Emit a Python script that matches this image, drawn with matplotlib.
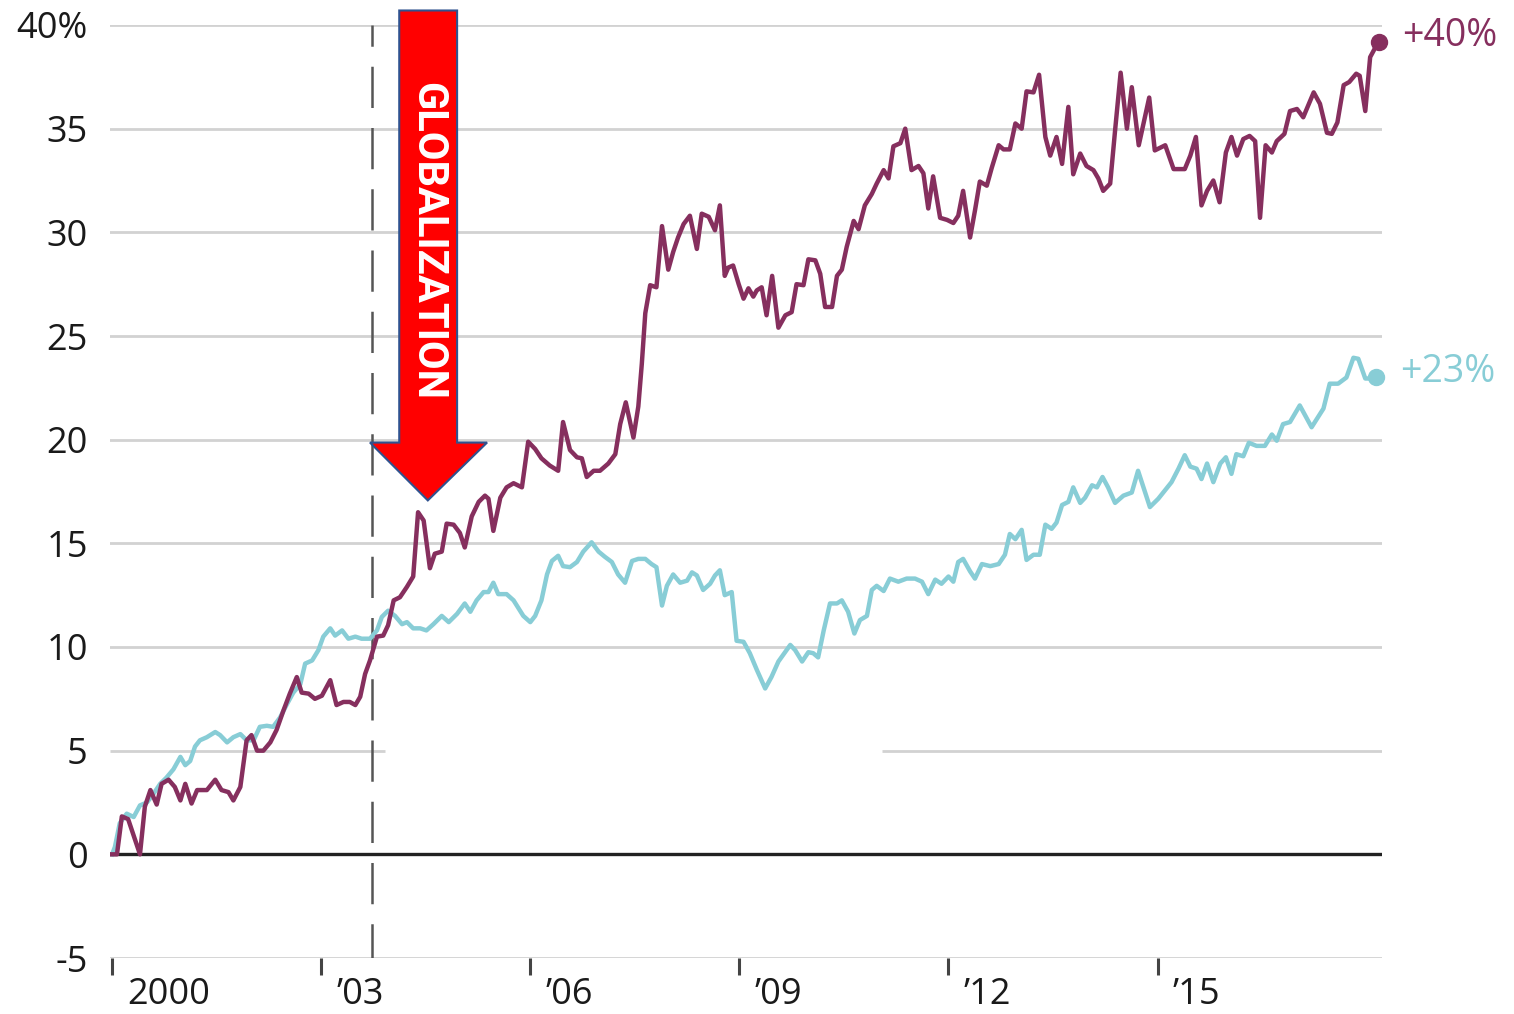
import matplotlib.pyplot as plt
from matplotlib.patches import Polygon
from matplotlib.transforms import ScaledTranslation

plt.rcParams['font.family'] = ['Open Sans', 'DejaVu Sans']

#%% Data (decimal year, % change since 2000)

purple_years = [
    2000.00, 2000.07, 2000.14, 2000.23, 2000.40, 2000.47, 2000.55, 2000.64, 2000.71, 2000.81,
    2000.90, 2000.98, 2001.05, 2001.14, 2001.22, 2001.36, 2001.48, 2001.57, 2001.67, 2001.74,
    2001.84, 2001.93, 2002.00, 2002.08, 2002.17, 2002.27, 2002.36, 2002.46, 2002.55, 2002.65,
    2002.72, 2002.82, 2002.91, 2003.01, 2003.13, 2003.22, 2003.32, 2003.41, 2003.49, 2003.56,
    2003.63, 2003.70, 2003.80, 2003.89, 2003.96, 2004.04, 2004.13, 2004.23, 2004.32, 2004.39,
    2004.47, 2004.56, 2004.63, 2004.73, 2004.80, 2004.90, 2004.99, 2005.06, 2005.16, 2005.26,
    2005.35, 2005.40, 2005.47, 2005.57, 2005.66, 2005.76, 2005.88, 2005.97, 2006.07, 2006.16,
    2006.28, 2006.40, 2006.47, 2006.57, 2006.67, 2006.74, 2006.81, 2006.91, 2007.00, 2007.12,
    2007.22, 2007.29, 2007.37, 2007.48, 2007.55, 2007.60, 2007.65, 2007.72, 2007.81, 2007.89,
    2007.98, 2008.05, 2008.12, 2008.20, 2008.29, 2008.39, 2008.46, 2008.56, 2008.65, 2008.72,
    2008.79, 2008.84, 2008.91, 2008.99, 2009.06, 2009.13, 2009.20, 2009.25, 2009.32, 2009.39,
    2009.47, 2009.56, 2009.66, 2009.75, 2009.82, 2009.92, 2009.99, 2010.09, 2010.16, 2010.23,
    2010.33, 2010.40, 2010.47, 2010.54, 2010.64, 2010.71, 2010.80, 2010.90, 2010.97, 2011.07,
    2011.14, 2011.21, 2011.31, 2011.38, 2011.47, 2011.57, 2011.64, 2011.71, 2011.78, 2011.88,
    2011.98, 2012.07, 2012.14, 2012.21, 2012.31, 2012.38, 2012.45, 2012.55, 2012.62, 2012.72,
    2012.79, 2012.88, 2012.96, 2013.05, 2013.12, 2013.22, 2013.30, 2013.39, 2013.46, 2013.55,
    2013.63, 2013.72, 2013.79, 2013.89, 2013.98, 2014.08, 2014.15, 2014.22, 2014.32, 2014.39,
    2014.47, 2014.56, 2014.63, 2014.73, 2014.88, 2014.96, 2015.11, 2015.23, 2015.39, 2015.47,
    2015.55, 2015.63, 2015.71, 2015.80, 2015.89, 2015.98, 2016.06, 2016.14, 2016.23, 2016.32,
    2016.40, 2016.47, 2016.55, 2016.64, 2016.71, 2016.82, 2016.90, 2017.00, 2017.09, 2017.24,
    2017.33, 2017.43, 2017.50, 2017.58, 2017.67, 2017.75, 2017.85, 2017.90, 2017.98, 2018.05,
    2018.17]
purple_pct = [
    0.0, 0.0, 1.83, 1.7, 0.0, 2.3, 3.1, 2.4, 3.4, 3.6,
    3.25, 2.6, 3.4, 2.45, 3.1, 3.1, 3.6, 3.1, 3.0, 2.6,
    3.25, 5.5, 5.75, 5.0, 5.0, 5.4, 6.0, 6.95, 7.75, 8.55,
    7.8, 7.75, 7.5, 7.65, 8.4, 7.2, 7.35, 7.35, 7.2, 7.6,
    8.7, 9.35, 10.5, 10.55, 11.05, 12.25, 12.4, 12.9, 13.4, 16.5,
    16.1, 13.8, 14.5, 14.6, 15.95, 15.9, 15.5, 14.8, 16.3, 17.0,
    17.3, 17.15, 15.6, 17.2, 17.7, 17.9, 17.7, 19.9, 19.55, 19.1,
    18.75, 18.5, 20.85, 19.5, 19.15, 19.1, 18.2, 18.5, 18.5, 18.85,
    19.3, 20.75, 21.8, 20.1, 21.6, 23.65, 26.1, 27.45, 27.35, 30.3,
    28.2, 29.05, 29.75, 30.4, 30.8, 29.2, 30.9, 30.75, 30.1, 31.3,
    27.9, 28.3, 28.4, 27.5, 26.8, 27.3, 26.9, 27.2, 27.35, 26.0,
    27.9, 25.4, 26.0, 26.15, 27.5, 27.45, 28.7, 28.65, 28.0, 26.4,
    26.4, 27.9, 28.2, 29.3, 30.55, 30.15, 31.3, 31.85, 32.35, 33.0,
    32.6, 34.15, 34.3, 35.0, 33.0, 33.2, 32.85, 31.15, 32.7, 30.7,
    30.6, 30.45, 30.8, 32.0, 29.75, 31.05, 32.45, 32.25, 33.1, 34.2,
    34.0, 34.0, 35.25, 35.0, 36.8, 36.75, 37.6, 34.6, 33.7, 34.6,
    33.3, 36.05, 32.8, 33.8, 33.2, 33.0, 32.6, 32.0, 32.35, 34.9,
    37.7, 35.0, 37.0, 34.2, 36.5, 33.95, 34.2, 33.05, 33.05, 33.7,
    34.6, 31.3, 32.0, 32.5, 31.45, 33.85, 34.6, 33.7, 34.5, 34.65,
    34.4, 30.7, 34.2, 33.85, 34.4, 34.75, 35.85, 35.95, 35.55, 36.75,
    36.2, 34.8, 34.75, 35.3, 37.1, 37.25, 37.65, 37.55, 35.85, 38.45,
    39.2]

teal_years = [
    2000.00, 2000.04, 2000.11, 2000.21, 2000.31, 2000.40, 2000.50, 2000.59, 2000.69, 2000.78,
    2000.88, 2000.98, 2001.05, 2001.12, 2001.19, 2001.26, 2001.36, 2001.48, 2001.55, 2001.65,
    2001.74, 2001.84, 2001.93, 2002.03, 2002.12, 2002.22, 2002.31, 2002.41, 2002.51, 2002.60,
    2002.70, 2002.77, 2002.87, 2002.96, 2003.03, 2003.13, 2003.20, 2003.30, 2003.39, 2003.49,
    2003.58, 2003.70, 2003.80, 2003.87, 2003.96, 2004.06, 2004.16, 2004.23, 2004.32, 2004.42,
    2004.51, 2004.61, 2004.73, 2004.83, 2004.95, 2005.06, 2005.14, 2005.23, 2005.33, 2005.40,
    2005.47, 2005.54, 2005.66, 2005.76, 2005.90, 2006.00, 2006.07, 2006.16, 2006.24, 2006.31,
    2006.40, 2006.47, 2006.57, 2006.67, 2006.76, 2006.88, 2006.98, 2007.07, 2007.17, 2007.26,
    2007.36, 2007.46, 2007.55, 2007.65, 2007.74, 2007.81, 2007.89, 2007.96, 2008.05, 2008.15,
    2008.25, 2008.32, 2008.39, 2008.48, 2008.58, 2008.65, 2008.72, 2008.79, 2008.89, 2008.96,
    2009.06, 2009.15, 2009.25, 2009.37, 2009.46, 2009.56, 2009.73, 2009.80, 2009.90, 2009.99,
    2010.06, 2010.13, 2010.21, 2010.30, 2010.40, 2010.47, 2010.56, 2010.65, 2010.73, 2010.83,
    2010.90, 2010.97, 2011.07, 2011.16, 2011.28, 2011.40, 2011.52, 2011.62, 2011.71, 2011.81,
    2011.90, 2012.00, 2012.07, 2012.14, 2012.21, 2012.31, 2012.38, 2012.48, 2012.60, 2012.72,
    2012.81, 2012.88, 2012.96, 2013.05, 2013.12, 2013.22, 2013.31, 2013.39, 2013.48, 2013.55,
    2013.63, 2013.72, 2013.79, 2013.89, 2013.96, 2014.06, 2014.13, 2014.21, 2014.29, 2014.39,
    2014.51, 2014.63, 2014.72, 2014.89, 2015.01, 2015.20, 2015.30, 2015.39, 2015.47, 2015.56,
    2015.63, 2015.71, 2015.80, 2015.90, 2015.98, 2016.06, 2016.13, 2016.23, 2016.31, 2016.42,
    2016.54, 2016.64, 2016.71, 2016.80, 2016.90, 2017.04, 2017.21, 2017.38, 2017.47, 2017.59,
    2017.71, 2017.81, 2017.88, 2017.98, 2018.04, 2018.14]
teal_pct = [
    0.0, 0.35, 1.5, 1.96, 1.8, 2.36, 2.5, 2.9, 3.4, 3.7,
    4.1, 4.7, 4.3, 4.5, 5.2, 5.5, 5.65, 5.9, 5.75, 5.4,
    5.65, 5.8, 5.5, 5.5, 6.15, 6.2, 6.15, 6.6, 7.25, 7.8,
    8.2, 9.2, 9.35, 9.85, 10.5, 10.9, 10.55, 10.8, 10.4, 10.5,
    10.4, 10.4, 10.8, 11.45, 11.75, 11.5, 11.1, 11.2, 10.9, 10.9,
    10.8, 11.1, 11.5, 11.2, 11.6, 12.1, 11.7, 12.25, 12.65, 12.65,
    13.1, 12.55, 12.55, 12.25, 11.5, 11.2, 11.5, 12.25, 13.5, 14.15,
    14.4, 13.9, 13.85, 14.1, 14.6, 15.05, 14.6, 14.35, 14.1, 13.5,
    13.1, 14.15, 14.25, 14.25, 14.0, 13.85, 12.0, 12.95, 13.5, 13.1,
    13.2, 13.6, 13.45, 12.75, 13.05, 13.45, 13.7, 12.5, 12.65, 10.3,
    10.25, 9.7, 8.9, 8.0, 8.55, 9.3, 10.1, 9.85, 9.3, 9.75,
    9.7, 9.5, 10.8, 12.1, 12.1, 12.25, 11.7, 10.65, 11.3, 11.5,
    12.75, 12.95, 12.7, 13.3, 13.15, 13.3, 13.3, 13.15, 12.55, 13.25,
    13.05, 13.4, 13.15, 14.1, 14.25, 13.65, 13.3, 14.0, 13.9, 14.0,
    14.45, 15.45, 15.2, 15.65, 14.2, 14.45, 14.45, 15.9, 15.7, 16.0,
    16.85, 17.0, 17.7, 16.95, 17.2, 17.8, 17.7, 18.2, 17.7, 16.95,
    17.3, 17.45, 18.5, 16.75, 17.15, 17.95, 18.6, 19.25, 18.7, 18.6,
    18.1, 18.85, 17.95, 18.85, 19.15, 18.35, 19.3, 19.2, 19.85, 19.7,
    19.7, 20.25, 19.95, 20.75, 20.85, 21.65, 20.6, 21.5, 22.7, 22.7,
    23.0, 23.95, 23.9, 22.95, 22.95, 23.0]

end_labels = ['+40%', '+23%']

y_ticks = [-5, 0, 5, 10, 15, 20, 25, 30, 35, 40]
y_tick_labels = ['-5', '0', '5', '10', '15', '20', '25', '30', '35', '40%']
x_ticks = [2000, 2003, 2006, 2009, 2012, 2015]
x_tick_labels = ['2000', '\u201903', '\u201906', '\u201909', '\u201912', '\u201915']

marker_year = 2003.73   # dashed vertical line
arrow_label = 'GLOBALIZATION'

#%% Styles

purple = '#862F5E'
teal = '#88CDD6'
grid_color = '#D2D2D2'
text_color = '#1A1A1A'

#%% Figure

fig_w_px, fig_h_px = 1514, 1014
fig = plt.figure(figsize=(fig_w_px / 100, fig_h_px / 100), dpi=100)
ax = fig.add_axes([110 / fig_w_px, 1 - 958 / fig_h_px,
                   1272 / fig_w_px, (958 - 25) / fig_h_px])
ax.set_xlim(1999.97, 2018.22)
ax.set_ylim(-5, 40)
for side in ['top', 'right', 'bottom', 'left']:
    ax.spines[side].set_visible(False)

# Horizontal grid (the 5% line has a blank patch in the original)
for v in y_ticks:
    if v == 0:
        ax.axhline(v, color='#222222', lw=2.4, zorder=1)
    elif v == 5:
        ax.hlines(v, 1999.97, 2003.92, color=grid_color, lw=2.0, zorder=0)
        ax.hlines(v, 2011.05, 2018.22, color=grid_color, lw=2.0, zorder=0)
    else:
        ax.axhline(v, color=grid_color, lw=2.0, zorder=0)

# Dashed marker line
ax.plot([marker_year, marker_year], [40, -5], color='#555555', lw=1.8,
        linestyle=(8, (16.5, 8)), zorder=1)

# Series
ax.plot(teal_years, teal_pct, color=teal, lw=3.2, zorder=3)
ax.plot(purple_years, purple_pct, color=purple, lw=3.2, zorder=4)

# End dots and labels
for yrs, vals, col, lab in [(purple_years, purple_pct, purple, end_labels[0]),
                            (teal_years, teal_pct, teal, end_labels[1])]:
    ax.plot(yrs[-1], vals[-1], 'o', color=col, ms=11.5, zorder=5, clip_on=False)
    ax.annotate(lab, (yrs[-1], vals[-1]), xytext=(17, 4),
                textcoords='offset points', va='center', ha='left',
                fontsize=27, color=col, annotation_clip=False)

# Ticks
ax.set_yticks(y_ticks)
ax.set_yticklabels(y_tick_labels)
ax.tick_params(axis='y', length=0, pad=16, labelsize=26, labelcolor=text_color)
ax.set_xticks(x_ticks)
ax.set_xticklabels(x_tick_labels, ha='left')
ax.tick_params(axis='x', length=12, width=2.2, color='#444444', pad=2,
               labelsize=26, labelcolor=text_color)
shift = ScaledTranslation(0.15, 0, fig.dpi_scale_trans)
for label in ax.get_xticklabels():
    label.set_transform(label.get_transform() + shift)

# Red arrow annotation
arrow_pts = [(2004.12, 40.7), (2004.95, 40.7), (2004.95, 19.86),
             (2005.38, 19.86), (2004.53, 17.07), (2003.70, 19.86),
             (2004.12, 19.86)]
ax.add_patch(Polygon(arrow_pts, closed=True, facecolor='#FF0000',
                     edgecolor='#2F528F', lw=1.5, zorder=6, clip_on=False))
ax.text(2004.53, 29.6, arrow_label, rotation=-90, ha='center', va='center',
        color='white', fontsize=30, fontweight='bold', family=['Roboto', 'DejaVu Sans'],
        zorder=7)

plt.savefig('out.png', dpi=100)
